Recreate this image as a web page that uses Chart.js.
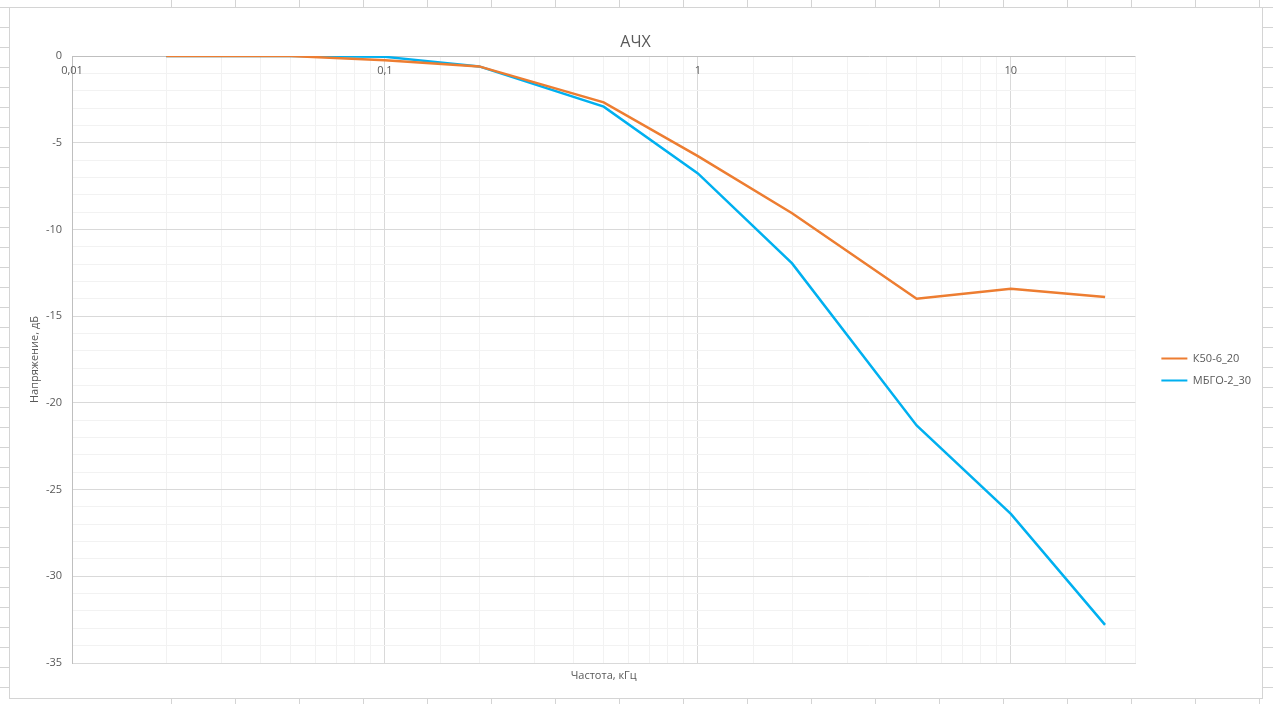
<!DOCTYPE html>
<html>
<head>
<meta charset="utf-8">
<script src="https://cdn.jsdelivr.net/npm/chart.js@4.4.1/dist/chart.umd.min.js"></script>
<style>
  html, body { margin: 0; padding: 0; }
  body {
    width: 1273px; height: 704px; overflow: hidden; position: relative;
    background-color: #fff;
    background-image: linear-gradient(to bottom, #d4d4d4 1px, transparent 1px);
    background-size: 64px 20px;
    background-position: 0 7px;
  }
  #cols {
    position: absolute; left: 171px; top: 0; right: 0; bottom: 0;
    background-image: linear-gradient(to right, #d4d4d4 1px, transparent 1px);
    background-size: 64px 20px;
  }
  #frame {
    position: absolute; left: 9px; top: 7px; width: 1252px; height: 690px;
    border: 1px solid #d4d4d4; background: #fff;
  }
  #wrap { position: absolute; left: 0; top: 0; width: 1251px; height: 689px; }
</style>
</head>
<body>
<div id="cols"></div>
<div id="frame"><div id="wrap"><canvas id="chart"></canvas></div></div>
<script>
// Частота, кГц
const freq = [0.02, 0.05, 0.1, 0.2, 0.5, 1, 2, 5, 10, 20];
// Напряжение, дБ
const k50 = [0, 0, -0.25, -0.6, -2.67, -5.77, -9.07, -14.0, -13.42, -13.9];
const mbgo = [0, 0, -0.05, -0.6, -2.92, -6.77, -11.96, -21.3, -26.4, -32.8];
const seriesNames = ['К50-6_20', 'МБГО-2_30'];
const xTickValues = [0.01, 0.1, 1, 10];
const xTickLabels = ['0,01', '0,1', '1', '10'];

const textColor = '#595959';
const fontFamily = '"Open Sans", sans-serif';

const toPoints = (ys) => freq.map((f, i) => ({ x: f, y: ys[i] }));

// подписи оси X рисуем под верхней линией оси (как в Excel, ось пересекает 0)
const xTopLabels = {
  id: 'xTopLabels',
  afterDraw(chart) {
    const ctx = chart.ctx;
    const sx = chart.scales.x;
    ctx.save();
    ctx.font = '11px ' + fontFamily;
    ctx.fillStyle = textColor;
    ctx.textAlign = 'center';
    ctx.textBaseline = 'middle';
    xTickValues.forEach((v, i) => {
      ctx.fillText(xTickLabels[i], sx.getPixelForValue(v), chart.chartArea.top + 15);
    });
    ctx.restore();
  }
};

function isDecade(v) {
  const l = Math.log10(v);
  return Math.abs(l - Math.round(l)) < 1e-9;
}

new Chart(document.getElementById('chart'), {
  type: 'line',
  data: {
    datasets: [
      { label: seriesNames[0], data: toPoints(k50), borderColor: '#ED7D31', backgroundColor: '#ED7D31',
        borderWidth: 2.5, pointRadius: 0, tension: 0, fill: false },
      { label: seriesNames[1], data: toPoints(mbgo), borderColor: '#00B0F0', backgroundColor: '#00B0F0',
        borderWidth: 2.5, pointRadius: 0, tension: 0, fill: false }
    ]
  },
  options: {
    responsive: true,
    maintainAspectRatio: false,
    animation: false,
    layout: { padding: { right: 0 } },
    plugins: {
      title: {
        display: true, text: 'АЧХ', color: textColor,
        font: { family: fontFamily, size: 16, weight: 'normal' },
        padding: { top: 25, bottom: 3.8 }
      },
      legend: {
        position: 'right',
        title: { display: true, text: ' ', font: { size: 10 }, padding: { top: 1, bottom: 21 } },
        labels: {
          boxWidth: 26, boxHeight: 2, padding: 11, color: textColor,
          font: { family: fontFamily, size: 11 },
          generateLabels(chart) {
            return Chart.defaults.plugins.legend.labels.generateLabels(chart)
              .map(item => Object.assign(item, { lineWidth: 0 }));
          }
        }
      },
      tooltip: { enabled: false }
    },
    scales: {
      x: {
        type: 'logarithmic',
        position: 'bottom',
        min: 0.01, max: 25,
        ticks: { display: false },
        grid: {
          drawTicks: false,
          color: (ctx) => (ctx.tick && isDecade(ctx.tick.value)) ? '#d9d9d9' : '#f2f2f2'
        },
        border: { color: '#d9d9d9' },
        title: {
          display: true, text: 'Частота, кГц', color: textColor,
          font: { family: fontFamily, size: 11 },
          padding: { top: 4, bottom: 15 }
        },
        afterFit(scale) { scale.height = 34; }
      },
      y: {
        min: -35, max: 0,
        ticks: {
          stepSize: 1, padding: 10, color: textColor,
          font: { family: fontFamily, size: 11 },
          callback: (v) => Math.abs(v % 5) === 0 ? String(v) : ''
        },
        grid: {
          drawTicks: false,
          color: (ctx) => {
            const v = ctx.tick ? ctx.tick.value : 1;
            if (v === 0) return '#bfbfbf';
            return Math.abs(v % 5) === 0 ? '#d9d9d9' : '#f2f2f2';
          }
        },
        border: { color: '#bfbfbf' },
        title: {
          display: true, text: 'Напряжение, дБ', color: textColor,
          font: { family: fontFamily, size: 11 },
          padding: { top: 18.4, bottom: 0 }
        },
        afterFit(scale) { scale.width = 62; }
      },
      gap: {
        type: 'linear', position: 'right', display: true,
        ticks: { display: false },
        grid: { display: false, drawOnChartArea: false },
        border: { display: false },
        afterFit(scale) { scale.width = 15; }
      }
    }
  },
  plugins: [xTopLabels]
});
</script>
</body>
</html>
